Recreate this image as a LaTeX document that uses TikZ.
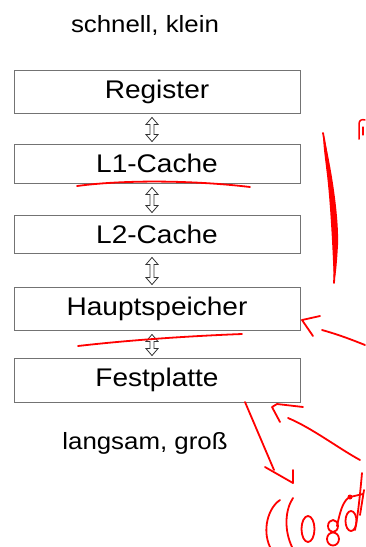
\documentclass[tikz,border=0pt]{standalone}
\usepackage{fontspec}
\setmainfont{Liberation Sans}[FakeStretch=1.1]
\usetikzlibrary{calc}
\definecolor{pen}{RGB}{255,0,0}
\definecolor{boxline}{RGB}{115,115,115}
\begin{document}
\begin{tikzpicture}[x=1pt,y=-1pt,
  mem/.style={draw=boxline, line width=0.9pt, minimum width=286pt, inner sep=0pt, font=\fontsize{25.5}{29}\selectfont},
  lbl/.style={font=\fontsize{23.5}{27}\selectfont, anchor=base, inner sep=0pt},
  dbl/.style={draw=black!80, line width=0.8pt, line join=miter},
  ink/.style={draw=pen, line width=1.8pt, line cap=round, line join=round}]
\useasboundingbox (0,0) rectangle (365,547);
\node[mem, minimum height=43pt] (reg) at (157,91.5) {Register};
\node[mem, minimum height=39pt] (l1) at (157,163.5) {L1-Cache};
\node[mem, minimum height=38pt] (l2) at (157,234) {L2-Cache};
\node[mem, minimum height=43pt] (hs) at (157,308.5) {Hauptspeicher};
\node[mem, minimum height=44pt] (fp) at (157,380) {Festplatte};
\node[lbl] (top) at (145,32) {schnell, klein};
\node[lbl] (bot) at (145,449) {langsam, groß};
% double arrows (outlined)
\foreach \a/\b in {reg/l1, l1/l2, l2/hs, hs/fp}{
  \draw[dbl] let \p1=([xshift=-5pt,yshift=-4pt]\a.south), \p2=([xshift=-5pt,yshift=2pt]\b.north) in
    (\x1,\y1) -- ++(6,7) -- ++(-4,0) -- (\x1+2pt,\y2+7pt) -- ++(4,0) -- (\x1,\y2)
    -- ++(-6,-7) -- ++(4,0) -- (\x1-2pt,\y1-7pt) -- ++(-4,0) -- cycle;
}
% red annotations
\draw[ink] (77,186) .. controls (130,179) and (200,181) .. (250,187);
\draw[ink] (78,346) .. controls (130,340) and (190,336) .. (242,334);
\fill[pen] (323,133) .. controls (331,165) and (339,215) .. (338,245)
  .. controls (337,262) and (336,275) .. (334,283)
  .. controls (333,260) and (331,210) .. (327,175) .. controls (325,158) and (323,145) .. cycle;
\draw[ink] (323,133) .. controls (330,170) and (337,230) .. (334,283);
\draw[ink, line width=1.5pt] (359,139) -- (359,124) .. controls (359,120) and (362,119) .. (365,120);
\draw[ink, line width=1.2pt] (363,127) -- (363,135);
\draw[ink] (320,316) -- (302,320) -- (313,336);
\draw[ink] (322,330) .. controls (340,335) and (355,341) .. (365,345);
\draw[ink] (245,402) -- (274,470);
\draw[ink] (265,467) -- (293,483) -- (293,470);
\draw[ink] (360,460) .. controls (338,448) and (312,428) .. (288,418);
\draw[ink] (303,407) -- (277,404) -- (272,407) -- (280,422);
% handwriting
\draw[ink] (280,500) .. controls (268,508) and (262,530) .. (270,547);
\draw[ink] (293,498) .. controls (285,510) and (284,530) .. (292,547);
\draw[ink] (308,529) ellipse [x radius=6.5, y radius=13];
\draw[ink] (333,526) ellipse [x radius=5, y radius=6];
\draw[ink] (333,539) ellipse [x radius=6, y radius=6.5];
\draw[ink] (337,526) .. controls (340,512) and (343,500) .. (350,497) -- (363,494);
\fill[pen] (350,497) circle (2.5);
\draw[ink] (351,521) ellipse [x radius=5.5, y radius=10];
\draw[ink] (362,473) .. controls (360,495) and (358,515) .. (355,530);
\draw[ink] (364,490) -- (360,515);
\end{tikzpicture}
\end{document}
